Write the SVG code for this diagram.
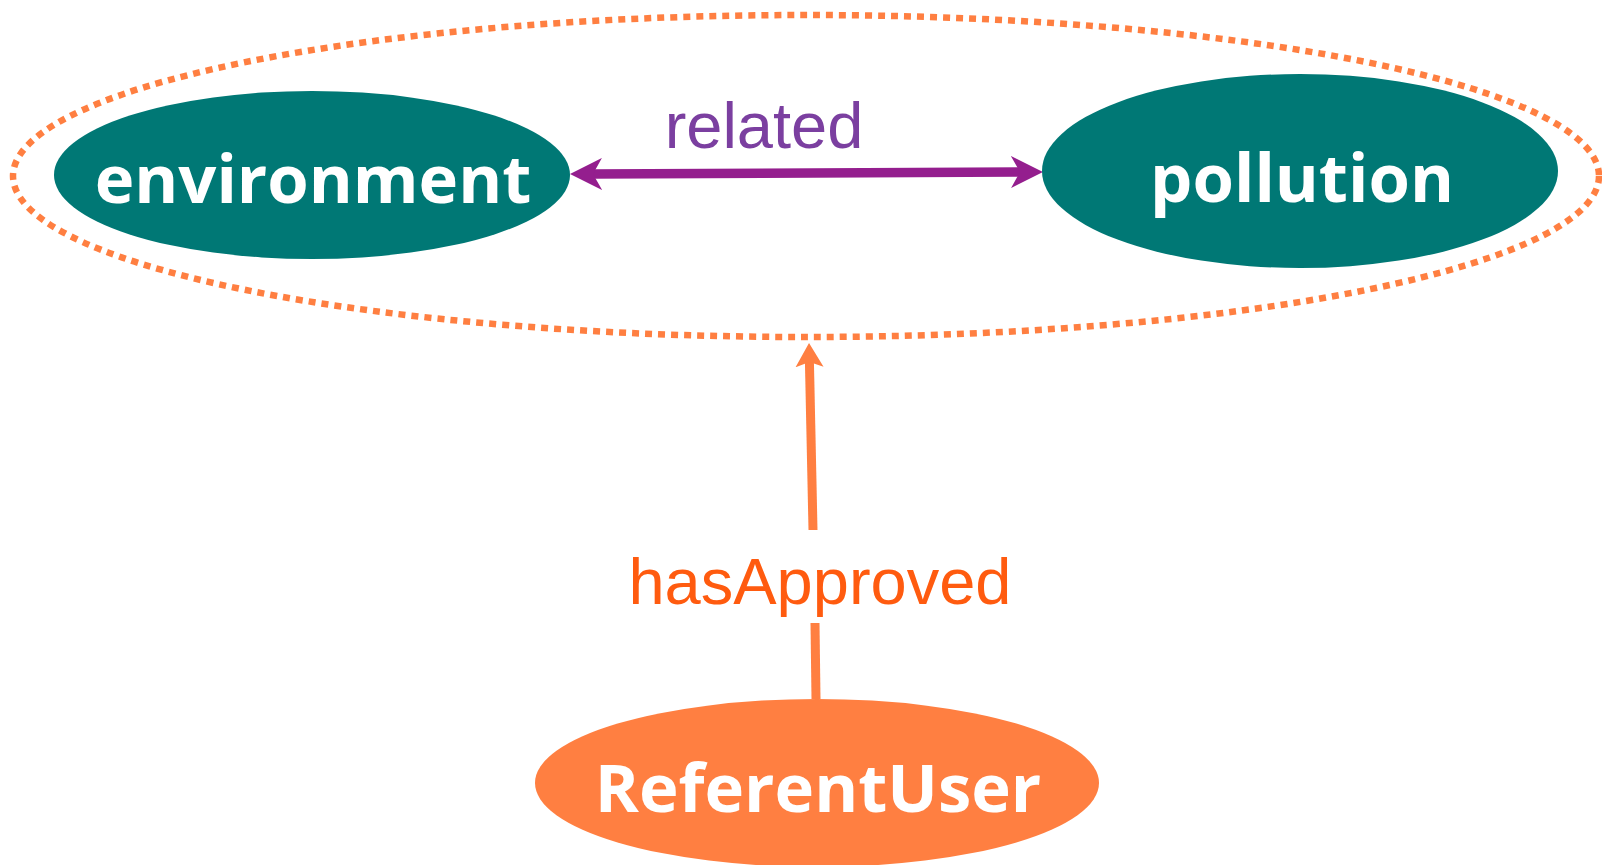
<svg xmlns="http://www.w3.org/2000/svg" width="1602" height="865" viewBox="0 0 1602 865">
<style>
.node-t{fill:#007875}
.node-o{fill:#FF7F41}
.nlabel{font-family:"Open Sans","Noto Sans",sans-serif;font-weight:bold;font-size:67px;fill:#ffffff;text-anchor:middle}
.elabel{font-family:"Liberation Sans",Arial,sans-serif;font-size:65px;text-anchor:middle}
</style>
<defs>
<marker id="ap" viewBox="0 0 32 32" refX="10" refY="16" markerWidth="32" markerHeight="32" markerUnits="userSpaceOnUse" orient="auto-start-reverse">
<path d="M0,0 L32,16 L0,32 L9,16 Z" fill="#941E8E"/>
</marker>
<marker id="ao" viewBox="0 0 24 28" refX="6" refY="14" markerWidth="24" markerHeight="28" markerUnits="userSpaceOnUse" orient="auto">
<path d="M0,0 L24,14 L0,28 L5,14 Z" fill="#FF7F41"/>
</marker>
</defs>
<g id="group-ellipse">
<ellipse cx="806" cy="176" rx="793" ry="161" fill="none" stroke="#FF7F41" stroke-width="6.5" stroke-dasharray="7 6"/>
</g>
<g id="connectors">
<line x1="592" y1="174" x2="1021" y2="172" stroke="#941E8E" stroke-width="9.5" marker-start="url(#ap)" marker-end="url(#ap)"/>
<text class="elabel" x="764" y="148" fill="#7B3FA0">related</text>
<polyline points="816,699 815,623" fill="none" stroke="#FF7F41" stroke-width="9"/>
<polyline points="813,530 809.4,361" fill="none" stroke="#FF7F41" stroke-width="9" marker-end="url(#ao)"/>
<text class="elabel" x="820" y="604" fill="#FF5B0F" font-size="66">hasApproved</text>
</g>
<g id="node-environment">
<ellipse class="node-t" cx="312" cy="175" rx="258" ry="84"/>
<text class="nlabel" x="313" y="203">environment</text>
</g>
<g id="node-pollution">
<ellipse class="node-t" cx="1300" cy="171" rx="258" ry="97"/>
<text class="nlabel" x="1302" y="202">pollution</text>
</g>
<g id="node-referentuser">
<ellipse class="node-o" cx="817" cy="783" rx="282" ry="84"/>
<text class="nlabel" x="818" y="812">ReferentUser</text>
</g>
</svg>
